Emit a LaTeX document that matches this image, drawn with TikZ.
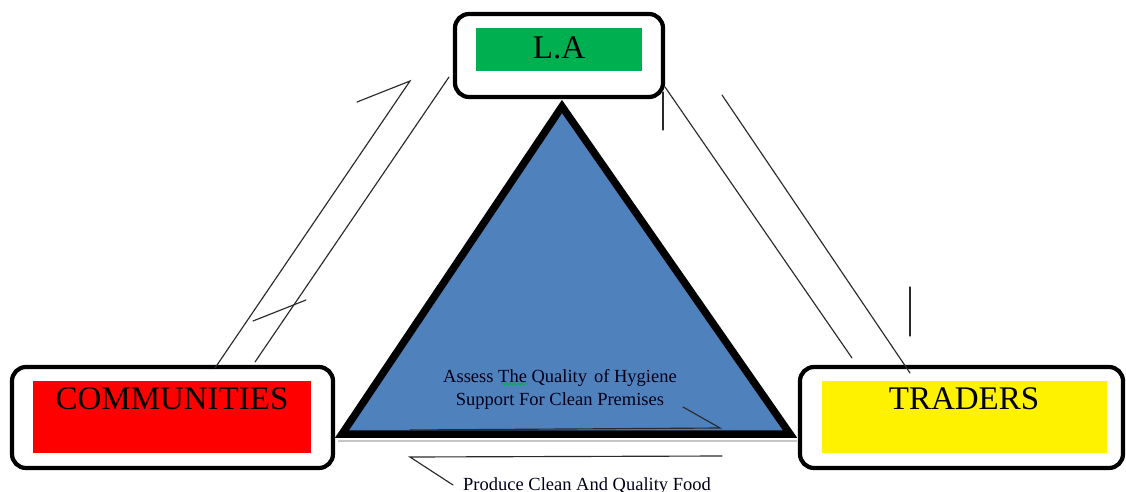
\documentclass[tikz,border=0pt]{standalone}
\usepackage{fontspec}
\setmainfont{Liberation Serif}
\usetikzlibrary{decorations.pathmorphing}
\definecolor{triblue}{HTML}{4F81BD}
\definecolor{lagreen}{HTML}{00B050}
\definecolor{lnk}{HTML}{2A2A2A}
\tikzset{
  frame/.style={draw=black, line width=4.2pt, fill=white, rounded corners=14pt, inner sep=0pt},
  colorbox/.style={inner sep=0pt, draw=none},
  bigtext/.style={font=\fontsize{33}{36}\selectfont, inner sep=0pt, text=black},
  smalltext/.style={font=\fontsize{18.5}{22}\selectfont, inner sep=0pt, text=black!90!blue, anchor=base},
  thinline/.style={draw=lnk, line width=1.15pt, line cap=round, line join=miter},
}
\begin{document}
\begin{tikzpicture}[x=1pt,y=-1pt]
\useasboundingbox (0,0) rectangle (1126,492);
% triangle
\coordinate (tA) at (562,106.5);
\coordinate (tB) at (342,434);
\coordinate (tC) at (790,434);
\draw[gray!45, line width=2pt] (338,440.5) -- (797,440.5);
\draw[fill=triblue, draw=black, line width=7.5pt, line join=miter] (tA) -- (tB) -- (tC) -- cycle;

% boxes
\node[frame, minimum width=208pt, minimum height=83pt] (la) at (559,55.5) {};
\node[colorbox, fill=lagreen, minimum width=166pt, minimum height=43pt] (lafill) at (559,49.5) {};
\node[bigtext] (latext) at (559,47.5) {L.A};

\node[frame, minimum width=321pt, minimum height=101pt] (comm) at (172.5,417.5) {};
\node[colorbox, fill=red, minimum width=278pt, minimum height=72pt] (commfill) at (172,417) {};
\node[bigtext] (commtext) at (172,399) {COMMUNITIES};

\node[frame, minimum width=323pt, minimum height=101pt] (trad) at (961.5,417.5) {};
\node[colorbox, fill=yellow, minimum width=285pt, minimum height=72pt] (tradfill) at (964.5,417) {};
\node[bigtext] (tradtext) at (964,399) {TRADERS};

% texts
\node[smalltext] (t1) at (560,382) {Assess The Quality\hspace{7pt}of Hygiene};
\node[smalltext] (t2) at (560,405) {Support For Clean Premises};
\node[smalltext] (t3) at (587,490) {Produce Clean And Quality Food};
\draw[lagreen, line width=0.9pt, decorate, decoration={snake, amplitude=1.1pt, segment length=4pt}] (501,384) -- (528,384);

% left connectors
\coordinate (l1a) at (215,368);
\coordinate (l1b) at (410,81);
\coordinate (l1c) at (357,102);
\draw[thinline] (l1a) -- (l1b) -- (l1c);
\coordinate (l2a) at (255,362);
\coordinate (l2b) at (449,77);
\draw[thinline] (l2a) -- (l2b);
\coordinate (l3a) at (253,321);
\coordinate (l3b) at (306,300);
\draw[thinline] (l3a) -- (l3b);

% right connectors
\coordinate (r1a) at (665,87);
\coordinate (r1b) at (852,358);
\draw[thinline] (r1a) -- (r1b);
\coordinate (r2a) at (722,95);
\coordinate (r2b) at (910,373);
\draw[thinline] (r2a) -- (r2b);
\coordinate (r3a) at (663,92);
\coordinate (r3b) at (663,130);
\draw[thinline] (r3a) -- (r3b);
\coordinate (r4a) at (910,287);
\coordinate (r4b) at (910,336);
\draw[thinline] (r4a) -- (r4b);

% bottom connectors
\coordinate (b1a) at (410,430);
\coordinate (b1b) at (720,428);
\coordinate (b1c) at (683,407);
\draw[thinline] (b1a) -- (b1b) -- (b1c);
\coordinate (b2a) at (722,456);
\coordinate (b2b) at (410,457);
\coordinate (b2c) at (453,485);
\draw[thinline] (b2a) -- (b2b) -- (b2c);
\end{tikzpicture}
\end{document}
